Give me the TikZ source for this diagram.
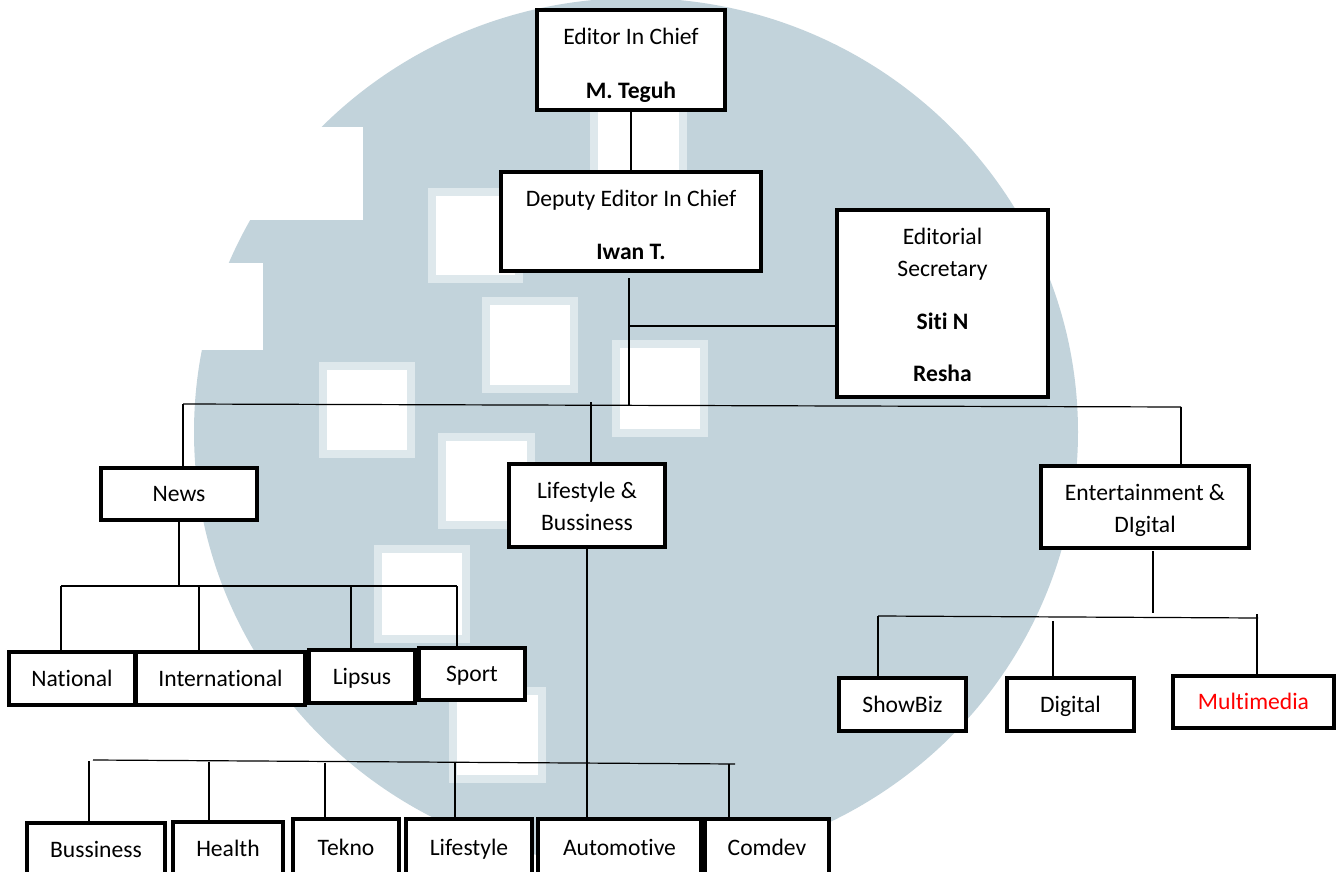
\documentclass[tikz,border=0pt]{standalone}
\usepackage{fontspec}
\setmainfont{Carlito}[Ligatures=NoCommon]
\newcommand\diagfont{\fontsize{11.8pt}{16pt}\selectfont}
\definecolor{wm}{RGB}{194,211,219}
\definecolor{wmframe}{RGB}{222,232,236}
\definecolor{mmred}{RGB}{255,0,0}
\tikzset{
  box/.style={draw=black, line width=1.6pt, fill=white, inner sep=0pt,
    text height=7.6pt, text depth=0pt, font=\diagfont},
  txt/.style={inner sep=0pt, align=center, font=\diagfont},
  conn/.style={draw=black, line width=0.6pt},
  sq/.style={fill=white, draw=wmframe, line width=4pt},
}
\begin{document}
\begin{tikzpicture}[x=0.5pt,y=-0.5pt]
\useasboundingbox (0,0) rectangle (1340,872);
\clip (0,0) rectangle (1340,872);
\fill[white] (0,0) rectangle (1340,872);
% watermark
\fill[wm] (636,432) ellipse [x radius=221pt, y radius=217pt];
\fill[white] (150,127) rectangle (363,220);
\fill[white] (150,263) rectangle (263,350);
\draw[sq] (432,192) rectangle (519,279);
\draw[sq] (486,301) rectangle (574,389);
\draw[sq] (323,366) rectangle (411,454);
\draw[sq] (616,344) rectangle (704,433);
\draw[sq] (442,437) rectangle (531,525);
\draw[sq] (378,549) rectangle (466,639);
\draw[sq] (453,691) rectangle (542,779);
\draw[sq] (594,96) rectangle (683,184);

% boxes
\node[box, minimum width=94pt, minimum height=50pt] (eic) at (631,60) {};
\node[txt] (eict) at (631,65.3) {Editor In Chief\\[10.7pt]\bfseries M. Teguh};
\node[box, minimum width=130pt, minimum height=49.5pt] (deic) at (631,221.5) {};
\node[txt] (deict) at (631,224.8) {Deputy Editor In Chief\\[10.5pt]\bfseries Iwan T.};
\node[box, minimum width=105.5pt, minimum height=93.5pt] (es) at (942.5,303.5) {};
\node[txt] (est) at (942.5,305) {Editorial\\Secretary\\[10.5pt]\bfseries Siti N\\[10.25pt]\bfseries Resha};

\node[box, minimum width=78pt, minimum height=26pt] (news) at (179,494) {News};
\node[box, minimum width=78pt, minimum height=41.5pt] (lb) at (587,505.5) {};
\node[txt] (lbt) at (587,506.2) {Lifestyle \&\\Bussiness};
\node[box, minimum width=104pt, minimum height=41pt] (ed) at (1145,507) {};
\node[txt] (edt) at (1145,510.3) {Entertainment \&\\DIgital};

\node[box, minimum width=63pt, minimum height=26.5pt] (national) at (72,678.5) {National};
\node[box, minimum width=84.5pt, minimum height=26.5pt] (intl) at (220.5,678.5) {International};
\node[box, minimum width=53pt, minimum height=26.5pt] (lipsus) at (362,676.5) {Lipsus};
\node[box, minimum width=53pt, minimum height=26pt] (sport) at (472,674) {Sport};

\node[box, minimum width=63.5pt, minimum height=26.5pt] (showbiz) at (902.5,704.5) {ShowBiz};
\node[box, minimum width=63.5pt, minimum height=26.5pt] (digital) at (1070.5,704.5) {Digital};
\node[box, minimum width=80.5pt, minimum height=26pt, text=mmred] (multi) at (1253.5,702) {Multimedia};

\node[box, minimum width=69pt, minimum height=26.5pt] (buss) at (96,849.5) {Bussiness};
\node[box, minimum width=55pt, minimum height=27pt] (health) at (228,849) {Health};
\node[box, minimum width=53pt, minimum height=28.5pt] (tekno) at (346,847.5) {Tekno};
\node[box, minimum width=63pt, minimum height=28.5pt] (life) at (469,847.5) {Lifestyle};
\node[box, minimum width=81.5pt, minimum height=28.5pt] (auto) at (619.5,847.5) {Automotive};
\node[box, minimum width=62pt, minimum height=28.5pt] (comdev) at (767,847.5) {Comdev};

% connectors
\coordinate (dTop) at (629,278);
\coordinate (dBot) at (629,405);
\coordinate (esj) at (629,326);
\coordinate (barL) at (183,404);
\coordinate (barM) at (591,402);
\coordinate (barR) at (1181,407);
\draw[conn] (eic.south) -- (deic.north);
\draw[conn] (dTop) -- (dBot);
\draw[conn] (esj) -- (esj -| es.west);
\draw[conn] (barL) -- (barR);
\draw[conn] (barL) -- (barL |- news.north);
\draw[conn] (barM) -- (barM |- lb.north);
\draw[conn] (barR) -- (barR |- ed.north);

\coordinate (nbL) at (61,586);
\coordinate (nb2) at (199,586);
\coordinate (nb3) at (351,586);
\coordinate (nbR) at (457,586);
\draw[conn] (news.south) -- (news.south |- nbL);
\draw[conn] (nbL) -- (nbR);
\draw[conn] (nbL) -- (nbL |- national.north);
\draw[conn] (nb2) -- (nb2 |- intl.north);
\draw[conn] (nb3) -- (nb3 |- lipsus.north);
\draw[conn] (nbR) -- (nbR |- sport.north);

\coordinate (lbL) at (93,760);
\coordinate (lbR) at (735,764);
\coordinate (lv1) at (89,761);
\coordinate (lv2) at (209,761.7);
\coordinate (lv3) at (325,762.5);
\coordinate (lv4) at (455,763);
\coordinate (lv6) at (729,764);
\draw[conn] (lb.south) -- (lb.south |- auto.north);
\draw[conn] (lbL) -- (lbR);
\draw[conn] (lv1) -- (lv1 |- buss.north);
\draw[conn] (lv2) -- (lv2 |- health.north);
\draw[conn] (lv3) -- (lv3 |- tekno.north);
\draw[conn] (lv4) -- (lv4 |- life.north);
\draw[conn] (lv6) -- (lv6 |- comdev.north);

\coordinate (eS1) at (1153,551);
\coordinate (eS2) at (1153,613);
\coordinate (ebL) at (878,616);
\coordinate (ebR) at (1258,618);
\coordinate (ev2) at (1053,621);
\coordinate (ev3) at (1257,614);
\draw[conn] (eS1) -- (eS2);
\draw[conn] (ebL) -- (ebR);
\draw[conn] (ebL) -- (ebL |- showbiz.north);
\draw[conn] (ev2) -- (ev2 |- digital.north);
\draw[conn] (ev3) -- (ev3 |- multi.north);
\end{tikzpicture}
\end{document}
